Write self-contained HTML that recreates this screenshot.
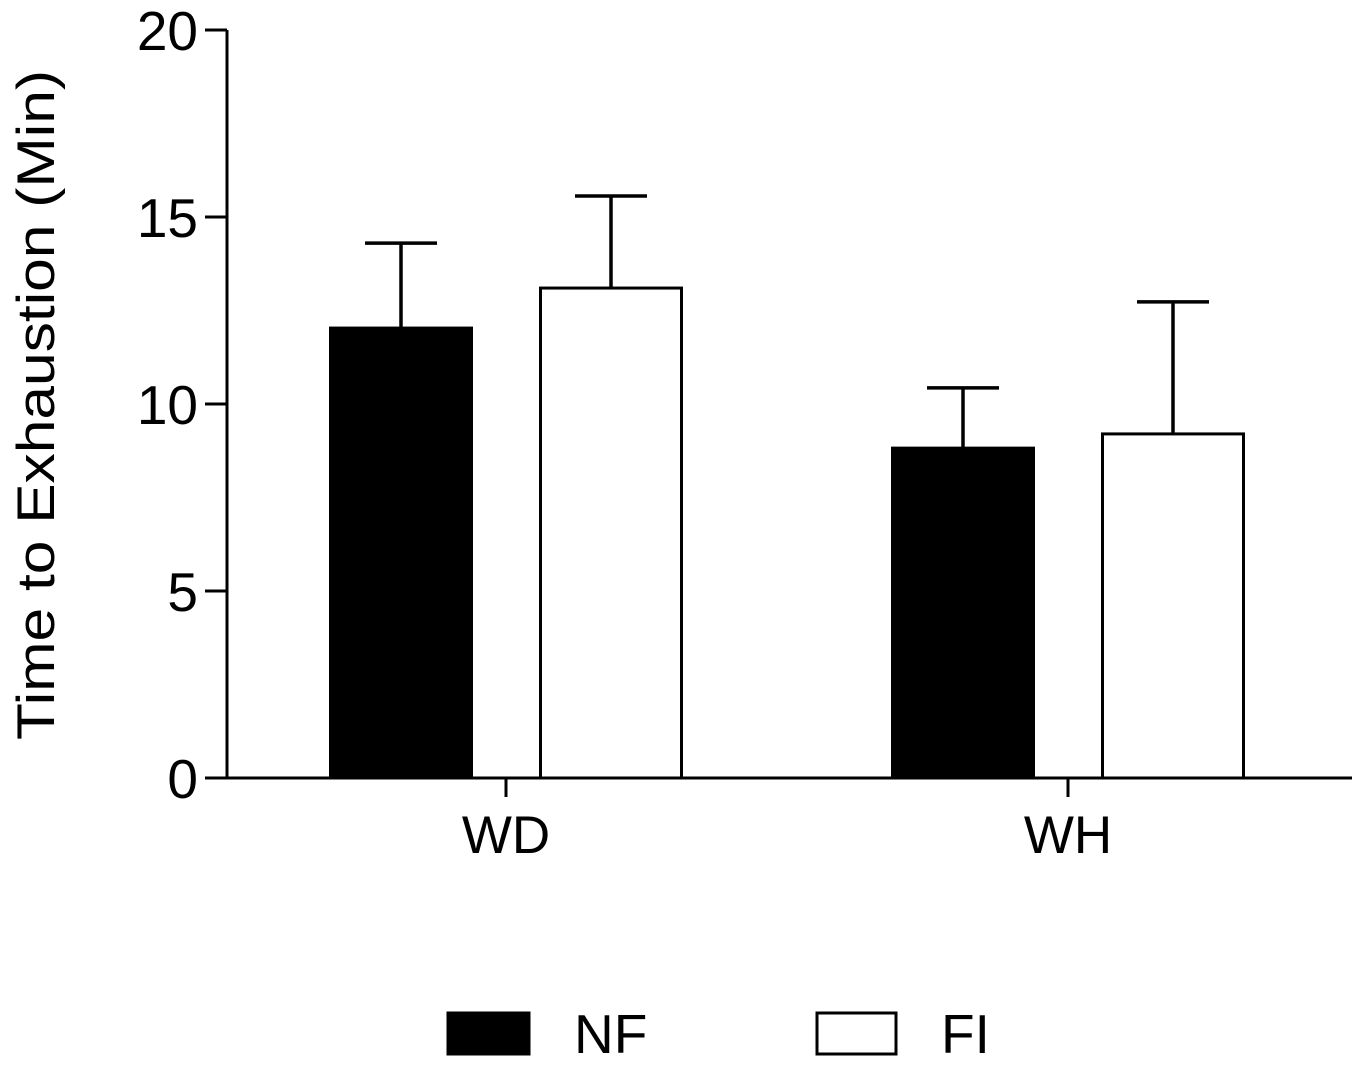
<!DOCTYPE html>
<html><head><meta charset="utf-8"><style>
body{margin:0;background:#fff}
svg{display:block;font-family:"Liberation Sans",Arial,sans-serif}
</style></head><body>
<svg id="chart" width="1360" height="1071" viewBox="0 0 1360 1071" xmlns="http://www.w3.org/2000/svg">
<rect width="1360" height="1071" fill="#fff"/>
<g id="plot"></g>
<text transform="translate(54,405) rotate(-90)" text-anchor="middle" font-size="53" textLength="670" lengthAdjust="spacingAndGlyphs">Time to Exhaustion (Min)</text>
<g>
<rect x="448" y="1013" width="81" height="41" fill="#000" stroke="#000" stroke-width="3"/>
<text x="574" y="1053" font-size="55">NF</text>
<rect x="817" y="1013" width="79" height="41" fill="#fff" stroke="#000" stroke-width="3"/>
<text x="941" y="1053" font-size="55">FI</text>
</g>
</svg>
<script>
const categories = ["WD", "WH"];
const seriesNames = ["NF", "FI"];
const nfMeans = [12.03, 8.82];
const nfErrors = [2.27, 1.61];
const fiMeans = [13.1, 9.2];
const fiErrors = [2.46, 3.53];
const yTicks = [0, 5, 10, 15, 20];

const NS = "http://www.w3.org/2000/svg";
const g = document.getElementById("plot");
const y0 = 778, yTop = 30, yMax = 20;
const yScale = v => y0 - (v / yMax) * (y0 - yTop);
const catCenters = [506, 1068];
const xCat = i => catCenters[0] + i * (catCenters[1] - catCenters[0]);
const barW = 141, barOff = [-105, 105];

function mk(tag, attrs) {
  const e = document.createElementNS(NS, tag);
  for (const k in attrs) e.setAttribute(k, attrs[k]);
  g.appendChild(e);
  return e;
}

let ax = mk("line", {x1: 227, y1: yTop, x2: 227, y2: y0 + 1.5, stroke: "#000", "stroke-width": 3});


let bx = mk("line", {x1: 226, y1: y0, x2: 1352, y2: y0, stroke: "#000", "stroke-width": 3});



yTicks.forEach(t => {
  const y = yScale(t);
  const l = mk("line", {x1: 205, y1: y, x2: 227, y2: y, stroke: "#000", "stroke-width": 3});
  
  
  const tx = mk("text", {x: 198, y: y + 20, "text-anchor": "end", "font-size": 55});
  tx.textContent = t;
  
  
});

const series = [[nfMeans, nfErrors, "#000"], [fiMeans, fiErrors, "#fff"]];
categories.forEach((c, i) => {
  const cx = xCat(i);
  series.forEach((s, j) => {
    const bc = cx + barOff[j];
    const top = yScale(s[0][i]);
    const et = yScale(s[0][i] + s[1][i]);
    const el = mk("line", {x1: bc, y1: top, x2: bc, y2: et, stroke: "#000", "stroke-width": 3.5});
    
    
    const cap = mk("line", {x1: bc - 36, y1: et, x2: bc + 36, y2: et, stroke: "#000", "stroke-width": 3.5});
    
    
    const r = mk("rect", {x: bc - barW / 2, y: top, width: barW, height: y0 - top, fill: s[2], stroke: "#000", "stroke-width": 3});
    
    
  });
  const tk = mk("line", {x1: cx, y1: y0, x2: cx, y2: 797, stroke: "#000", "stroke-width": 3});
  
  
  const lb = mk("text", {x: cx, y: 853, "text-anchor": "middle", "font-size": 53});
  lb.textContent = c;
  
  
});
</script>
</body></html>
